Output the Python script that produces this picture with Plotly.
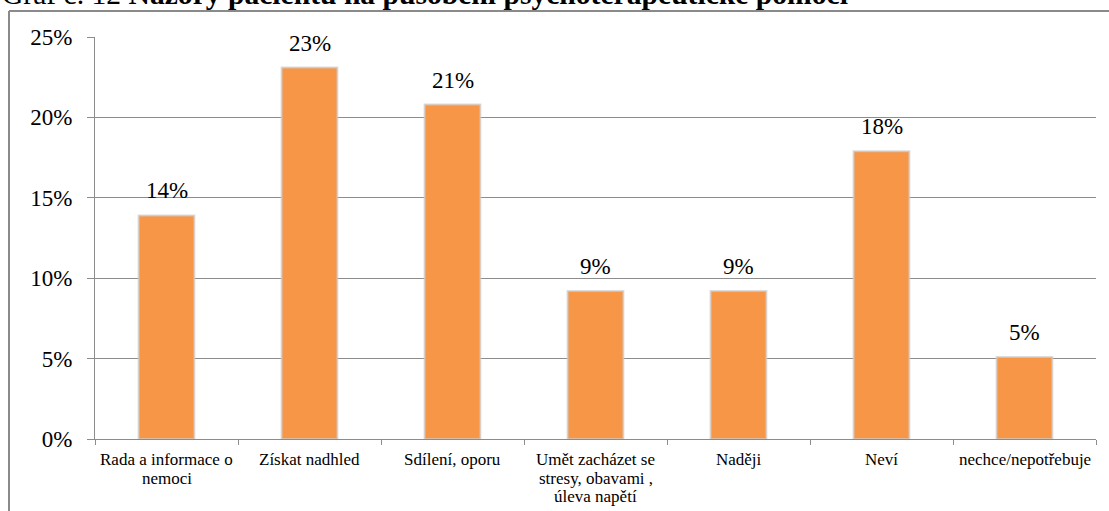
import plotly.graph_objects as go

# Survey answers and the share of respondents for each
categories = [
    "Rada a informace o<br>nemoci",
    "Získat nadhled",
    "Sdílení, oporu",
    "Umět zacházet se<br>stresy, obavami ,<br>úleva napětí",
    "Naději",
    "Neví",
    "nechce/nepotřebuje",
]
shares = [0.139, 0.231, 0.208, 0.092, 0.092, 0.179, 0.051]

title_plain = "Graf č. 12 "
title_bold = "Názory pacientů na působení psychoterapeutické pomoci"

SERIF = "Liberation Serif"
BAR_COLOR = "#F79646"
GRID = "#8c8c8c"

W, H = 1109, 511
ML, MR, MT, MB = 95, 13, 37, 72
PW = W - ML - MR
PH = H - MT - MB
LINE_STEP = 18.5  # spacing of wrapped category label lines


def px_x(px):
    return (px - ML) / PW


def px_y(py):
    return 1 - (py - MT) / PH


fig = go.Figure(
    go.Bar(
        x=categories,
        y=shares,
        width=0.39,
        marker=dict(color=BAR_COLOR, line=dict(color="rgba(205,205,205,0.7)", width=2)),
        hoverinfo="skip",
    )
)

# value labels above each bar
for cat, val in zip(categories, shares):
    fig.add_annotation(
        x=cat, y=val, xref="x", yref="y",
        text=f"{val:.0%}", showarrow=False,
        yanchor="bottom", yshift=10,
        font=dict(family=SERIF, size=23, color="#000000"),
    )

# category names under the axis, one annotation per wrapped line
for cat in categories:
    for i, line in enumerate(cat.split("<br>")):
        fig.add_annotation(
            x=cat, y=0, xref="x", yref="paper",
            text=line, showarrow=False,
            xanchor="center", yanchor="top", yshift=-(9 + i * LINE_STEP),
            font=dict(family=SERIF, size=17, color="#000000"),
        )

# chart heading at the very top
fig.add_annotation(
    x=px_x(0), y=px_y(12), xref="paper", yref="paper",
    xanchor="left", yanchor="bottom", showarrow=False,
    text=f"{title_plain}<b>{title_bold}</b>",
    font=dict(family=SERIF, size=29.6, color="#000000"),
)

# outer frame of the chart object
frame = dict(color="#8a8a8a", width=2)
fig.add_shape(type="line", xref="paper", yref="paper",
              x0=px_x(9), x1=px_x(1115), y0=px_y(11), y1=px_y(11), line=frame)
fig.add_shape(type="line", xref="paper", yref="paper",
              x0=px_x(9), x1=px_x(9), y0=px_y(11), y1=px_y(520), line=frame)

fig.update_layout(
    width=W, height=H,
    margin=dict(l=ML, r=MR, t=MT, b=MB),
    paper_bgcolor="white", plot_bgcolor="white",
    showlegend=False,
    font=dict(family=SERIF, color="#000000"),
)

fig.update_yaxes(
    range=[0, 0.25], dtick=0.05, tickformat=".0%",
    showgrid=True, gridcolor=GRID, gridwidth=1,
    showline=True, linecolor=GRID, linewidth=1,
    ticks="outside", ticklen=7, tickcolor=GRID,
    ticklabelstandoff=10,
    zeroline=False,
    tickfont=dict(family=SERIF, size=23, color="#000000"),
)

fig.update_xaxes(
    showline=True, linecolor=GRID, linewidth=1,
    ticks="outside", tickson="boundaries", ticklen=5, tickcolor=GRID,
    showgrid=False, showticklabels=False,
)

fig.write_html("out.html")
